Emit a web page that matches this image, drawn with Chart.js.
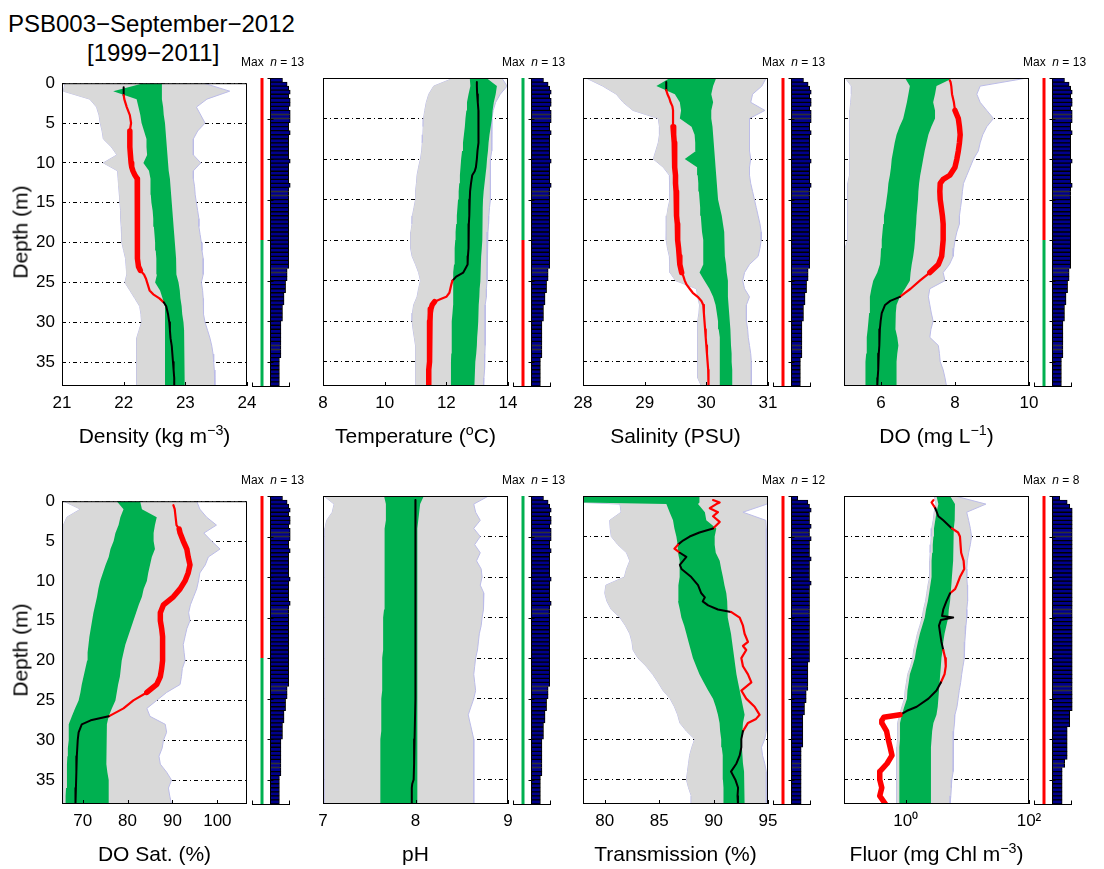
<!DOCTYPE html>
<html><head><meta charset="utf-8">
<script src="https://cdn.jsdelivr.net/npm/chart.js@4/dist/chart.umd.min.js"></script>
<style>
body{margin:0;background:#fff;width:1104px;height:869px;position:relative;overflow:hidden;font-family:"Liberation Sans",Arial,sans-serif;color:#000}
canvas{position:absolute}
.t{position:absolute;white-space:nowrap;line-height:1}
sup{font-size:0.68em;vertical-align:0.55em;line-height:0}
</style></head><body>
<script>
// ---------------- DATA ----------------
const DEPTH = [0,1,2,3,4,5,6,7,8,9,10,11,12,13,14,15,16,17,18,19,20,21,22,23,24,25,26,27,28,29,30,31,32,33,34,35,36,37,38];
const TRANS_DEPTH = [0,0.8,1,2,3,4,5,6,7,8,9,10,11,12,13,14,15,16,17,18,19,20,21,22,23,24,25,26,27,28,29,30,31,32,33,34,35,36,37,38];
const DEPTH_TICKS = [0,5,10,15,20,25,30,35];

// Density
const densGrayLo = [21.05,21.02,21.45,21.56,21.6,21.62,21.65,21.67,21.8,21.89,21.67,21.9,21.91,21.92,21.93,21.94,21.95,21.95,21.96,21.97,21.97,22.0,22.03,22.04,22.05,22.02,22.1,22.18,22.26,22.28,22.29,22.25,22.21,22.21,22.21,22.21,22.21,22.21,22.21];
const densGrayHi = [23.3,23.72,23.35,23.18,23.25,23.32,23.2,23.13,23.13,23.13,23.25,23.13,23.13,23.15,23.16,23.18,23.2,23.22,23.22,23.24,23.26,23.27,23.29,23.29,23.29,23.26,23.28,23.29,23.29,23.3,23.32,23.36,23.4,23.43,23.45,23.46,23.47,23.48,23.48];
const densGreenLo = [22.32,21.83,22.21,22.24,22.27,22.29,22.33,22.37,22.37,22.38,22.32,22.41,22.43,22.44,22.44,22.45,22.47,22.48,22.49,22.5,22.51,22.52,22.53,22.53,22.54,22.51,22.59,22.63,22.67,22.67,22.67,22.67,22.67,22.67,22.67,22.67,22.67,22.67,22.67];
const densGreenHi = [22.62,22.62,22.62,22.64,22.65,22.67,22.68,22.69,22.7,22.71,22.72,22.73,22.75,22.76,22.77,22.78,22.79,22.8,22.81,22.82,22.83,22.84,22.85,22.85,22.86,22.89,22.91,22.92,22.94,22.95,22.97,22.98,22.99,22.99,22.99,22.99,22.99,22.99,22.99];
const densProfDepth = [0.5,1,1.5,2,3,4,5,6,7,8,9,10,10.5,11,11.5,12,13,14,15,16,17,18,19,20,21,22,23,23.5,24,24.5,25,25.5,26,26.5,27,27.5,28,29,30,31,32,33,34,35,36,37,38];
const densProfVal = [22.0,22.0,22.0,22.01,22.05,22.1,22.12,22.1,22.1,22.1,22.11,22.12,22.13,22.15,22.18,22.22,22.22,22.23,22.22,22.22,22.22,22.23,22.22,22.22,22.22,22.23,22.24,22.27,22.33,22.36,22.38,22.4,22.42,22.48,22.58,22.65,22.69,22.72,22.74,22.75,22.76,22.78,22.79,22.8,22.81,22.82,22.82];

// Temperature
const tempGrayLo = [12.24,11.59,11.43,11.35,11.3,11.26,11.25,11.24,11.22,11.2,11.16,11.1,11.05,11.03,11.0,11.0,10.95,10.9,10.89,10.85,10.83,10.85,10.89,11.0,11.1,11.16,11.1,11.05,10.94,10.9,10.89,10.92,10.96,11.0,11.0,11.0,11.0,11.0,11.0];
const tempGrayHi = [13.8,13.97,13.75,13.6,13.52,13.48,13.48,13.48,13.48,13.45,13.43,13.43,13.43,13.43,13.43,13.43,13.4,13.38,13.37,13.35,13.32,13.32,13.32,13.32,13.32,13.32,13.3,13.3,13.26,13.26,13.26,13.26,13.26,13.26,13.25,13.25,13.23,13.22,13.21];
const tempGreenLo = [12.76,12.78,12.72,12.67,12.65,12.62,12.6,12.57,12.54,12.51,12.48,12.46,12.44,12.42,12.4,12.38,12.36,12.34,12.32,12.3,12.29,12.28,12.26,12.25,12.23,12.22,12.22,12.22,12.22,12.2,12.18,12.18,12.17,12.17,12.16,12.15,12.15,12.15,12.15];
const tempGreenHi = [13.3,13.64,13.6,13.54,13.5,13.48,13.44,13.4,13.37,13.35,13.32,13.3,13.27,13.24,13.21,13.19,13.18,13.18,13.17,13.16,13.16,13.15,13.13,13.12,13.11,13.1,13.08,13.07,13.05,13.04,13.03,13.02,13.0,12.99,12.97,12.94,12.93,12.92,12.91];
const tempProfDepth = [0.5,1,2,3,4,5,6,7,8,9,10,11,11.5,12,13,14,15,16,17,18,19,20,21,22,23,23.5,24,24.5,25,25.5,26,26.5,27,27.3,27.6,28,28.5,29,30,31,32,33,34,35,36,37,38];
const tempProfVal = [12.99,12.99,13.0,13.02,13.04,13.05,13.05,13.04,13.03,13.01,12.99,12.96,12.92,12.84,12.8,12.77,12.76,12.75,12.74,12.73,12.73,12.72,12.71,12.7,12.69,12.62,12.55,12.32,12.2,12.16,12.13,12.1,12.0,11.8,11.62,11.54,11.5,11.48,11.47,11.47,11.46,11.46,11.45,11.44,11.43,11.43,11.43];

// Salinity
const salGrayLo = [28.05,28.32,28.54,28.65,28.81,29.22,29.24,29.24,29.22,29.18,29.14,29.3,29.4,29.41,29.41,29.41,29.38,29.36,29.35,29.35,29.35,29.37,29.4,29.41,29.41,29.5,29.84,29.86,29.89,29.88,29.86,29.86,29.86,29.86,29.86,29.86,29.86,29.86,29.92];
const salGrayHi = [30.97,30.9,30.75,30.72,30.95,30.7,30.7,30.7,30.7,30.7,30.72,30.7,30.7,30.72,30.75,30.78,30.81,30.84,30.87,30.89,30.89,30.87,30.84,30.7,30.62,30.59,30.62,30.7,30.65,30.65,30.65,30.67,30.68,30.7,30.72,30.73,30.73,30.73,30.73];
const salGreenLo = [29.41,29.19,29.49,29.57,29.59,29.57,29.76,29.81,29.82,29.83,29.65,29.85,29.86,29.87,29.88,29.89,29.9,29.91,29.92,29.93,29.95,29.95,29.95,29.95,29.89,29.97,30.05,30.11,30.15,30.17,30.19,30.2,30.21,30.22,30.22,30.22,30.22,30.22,30.22];
const salGreenHi = [30.16,30.11,30.08,30.11,30.08,30.08,30.1,30.11,30.12,30.13,30.14,30.15,30.16,30.17,30.18,30.19,30.22,30.25,30.27,30.29,30.3,30.3,30.3,30.32,30.33,30.35,30.35,30.35,30.36,30.37,30.38,30.39,30.4,30.4,30.41,30.41,30.42,30.42,30.42];
const salProfDepth = [0.5,1,1.5,2,2.5,3,3.5,4,5,6,7,8,9,10,11,12,13,14,15,16,17,18,19,20,21,22,23,24,24.5,25,25.5,26,26.5,27,27.5,28,29,30,31,32,33,34,35,36,37,38];
const salProfVal = [29.35,29.35,29.35,29.37,29.4,29.42,29.45,29.46,29.46,29.46,29.47,29.48,29.48,29.49,29.49,29.5,29.5,29.51,29.51,29.52,29.52,29.53,29.53,29.54,29.55,29.56,29.57,29.6,29.63,29.65,29.68,29.73,29.78,29.86,29.92,29.95,29.96,29.97,29.98,29.99,30.0,30.01,30.02,30.03,30.03,30.04];

// DO
const doGrayLo = [5.03,5.2,5.2,5.18,5.16,5.15,5.15,5.15,5.15,5.15,5.15,5.15,5.15,5.1,5.1,5.1,5.1,5.1,5.1,5.1,5.1,5.03,5.03,5.03,5.03,5.03,5.03,5.03,5.03,5.03,5.03,5.03,5.03,5.03,5.03,5.03,5.03,5.03,5.03];
const doGrayHi = [9.95,8.68,8.59,8.68,8.86,9.04,8.86,8.75,8.68,8.63,8.5,8.41,8.32,8.23,8.2,8.18,8.15,8.12,8.12,8.05,8.0,7.97,7.95,7.85,7.68,7.73,7.32,7.28,7.32,7.36,7.41,7.35,7.32,7.55,7.58,7.6,7.68,7.73,7.77];
const doGreenLo = [6.65,6.78,6.74,6.7,6.65,6.6,6.5,6.42,6.37,6.33,6.29,6.27,6.24,6.2,6.18,6.15,6.12,6.08,6.06,6.04,6.02,6.0,5.99,5.97,5.9,5.79,5.74,5.7,5.7,5.68,5.66,5.64,5.62,5.61,5.6,5.59,5.58,5.57,5.57];
const doGreenHi = [7.95,7.5,7.46,7.41,7.46,7.46,7.36,7.28,7.23,7.18,7.14,7.1,7.06,7.03,7.01,7.0,6.98,6.96,6.95,6.93,6.92,6.9,6.87,6.83,6.8,6.78,6.65,6.51,6.42,6.4,6.38,6.4,6.44,6.47,6.44,6.42,6.42,6.42,6.42];
const doProfDepth = [0.3,0.5,1,2,3,4,5,6,7,8,9,10,11,12,12.5,13,14,15,16,17,18,19,20,21,22,23,24,25,26,26.5,27,27.5,28,29,30,31,32,33,34,35,36,37,38];
const doProfVal = [7.86,7.88,7.9,7.92,7.97,8.0,8.09,8.12,8.14,8.12,8.09,8.05,8.0,7.86,7.68,7.6,7.59,7.6,7.63,7.66,7.68,7.68,7.68,7.66,7.64,7.55,7.32,7.05,6.8,6.65,6.51,6.25,6.11,6.02,5.99,5.97,5.96,5.95,5.94,5.93,5.92,5.91,5.9];

// DO saturation
const dosGrayLo = [65.8,69.5,66.5,65.7,65.7,65.7,65.7,65.7,65.7,65.7,65.7,65.7,65.7,65.7,65.7,65.7,65.7,65.7,65.7,65.7,65.7,65.7,65.7,65.7,65.7,65.7,65.7,65.7,65.7,65.7,65.7,65.7,65.7,65.7,65.7,65.7,65.7,65.7,65.7];
const dosGrayHi = [95.4,96.1,97.6,99.8,97.0,98.7,100.6,98.0,97.3,96.1,95.8,95.4,94.7,94.0,93.6,93.9,93.2,92.8,92.4,92.6,92.8,92.2,92.0,91.7,88.7,86.5,84.3,85.0,88.4,88.7,88.0,87.7,87.0,87.3,88.7,89.8,89.1,89.4,89.8];
const dosGreenLo = [77.6,79.1,78.4,78.0,77.3,76.9,76.2,75.8,75.1,74.5,73.9,73.5,73.2,72.8,72.4,72.1,71.8,71.5,71.3,71.1,71.0,70.6,70.2,69.8,69.5,69.1,68.3,67.6,66.9,66.9,66.9,66.7,66.6,66.5,66.5,66.5,66.3,66.2,66.1];
const dosGreenHi = [82.8,83.2,86.5,86.1,85.8,85.8,86.1,85.4,85.0,84.6,84.3,83.6,83.2,82.5,81.9,81.3,80.7,80.1,79.5,79.1,78.7,78.5,78.3,77.9,77.6,77.3,76.5,75.8,75.4,75.3,75.2,75.2,75.3,75.4,75.5,75.8,75.8,75.8,75.8];
const dosProfDepth = [0.5,1,2,3,3.5,4,5,6,7,8,9,10,11,12,13,14,15,16,17,18,19,20,21,22,23,24,25,26,27,27.5,28,29,30,32,34,36,38];
const dosProfVal = [90.2,90.5,90.7,90.9,91.5,91.7,92.4,93.2,93.5,93.9,93.5,92.8,91.7,90.2,88.0,87.3,87.3,87.6,87.8,87.8,87.8,87.8,87.6,87.3,86.5,84.3,81.3,79.1,75.8,71.8,69.8,69.1,68.9,68.7,68.6,68.5,68.4];

// pH
const phGrayLo = [7.01,7.12,7.1,7.04,7.02,7.02,7.02,7.02,7.02,7.02,7.02,7.02,7.02,7.02,7.02,7.02,7.02,7.02,7.02,7.02,7.02,7.02,7.02,7.02,7.02,7.02,7.02,7.02,7.02,7.02,7.02,7.02,7.02,7.02,7.02,7.02,7.02,7.02,7.02];
const phGrayHi = [8.79,8.63,8.65,8.7,8.63,8.7,8.64,8.7,8.66,8.71,8.72,8.7,8.74,8.74,8.73,8.72,8.71,8.69,8.68,8.67,8.65,8.64,8.63,8.64,8.65,8.63,8.6,8.57,8.59,8.61,8.63,8.63,8.63,8.63,8.63,8.63,8.63,8.63,8.63];
const phGreenLo = [7.66,7.68,7.68,7.68,7.67,7.67,7.67,7.67,7.67,7.67,7.66,7.66,7.66,7.66,7.66,7.65,7.65,7.65,7.65,7.65,7.64,7.64,7.64,7.64,7.64,7.63,7.63,7.63,7.63,7.63,7.62,7.62,7.62,7.62,7.62,7.62,7.62,7.62,7.62];
const phGreenHi = [8.09,8.05,8.04,8.03,8.02,8.02,8.02,8.02,8.02,8.02,8.02,8.02,8.02,8.02,8.02,8.02,8.02,8.02,8.02,8.02,8.02,8.02,8.02,8.02,8.02,8.02,8.02,8.02,8.02,8.02,8.02,8.02,8.02,8.02,8.02,8.02,8.02,8.02,8.02];
const phProfDepth = [0.5,5,10,15,20,25,30,33,35,35.5,36,38];
const phProfVal = [8.0,8.0,8.0,8.0,8.0,7.995,7.99,7.985,7.98,7.965,7.96,7.96];

// Transmission (band depths = TRANS_DEPTH)
const trGrayLo = [78.05,78.05,81.4,81.5,80.45,80.5,80.6,81.2,82.0,82.3,82.0,81.8,80.1,80.0,80.2,80.6,81.4,81.9,82.3,82.5,82.6,83.05,83.8,84.4,84.9,85.35,86.0,86.4,86.7,86.9,87.5,88.26,88.0,87.8,87.7,87.6,87.5,87.7,87.95,87.95];
const trGrayHi = [94.95,94.95,94.9,92.7,94.8,94.85,94.85,94.85,94.85,94.85,94.85,94.85,94.85,94.85,94.85,94.85,94.85,94.85,94.85,94.85,94.85,94.85,94.85,94.85,94.85,94.85,94.85,94.85,94.85,94.85,94.85,94.7,94.4,94.5,94.7,94.85,94.85,94.85,94.85,94.85];
const trGreenLo = [78.02,78.02,85.66,85.96,86.27,86.4,86.58,86.7,86.73,86.88,86.88,86.88,86.8,86.73,86.73,86.9,87.04,87.3,87.5,87.7,87.9,88.1,88.4,88.7,89.1,89.5,89.95,90.2,90.4,90.55,90.6,90.7,90.75,90.8,90.86,90.86,90.86,90.9,90.92,90.92];
const trGreenHi = [88.7,88.7,88.57,89.2,89.33,90.25,90.1,90.1,90.2,90.56,90.7,90.86,91.0,91.17,91.25,91.3,91.3,91.45,91.6,91.7,91.8,91.9,92.0,92.1,92.25,92.4,92.55,92.7,92.85,92.7,92.65,92.6,92.6,92.65,92.7,92.8,92.85,92.85,92.85,92.85];
const trProfDepth = [0.5,0.8,1,1.5,2,2.5,3.2,4,4.5,5,5.5,6,6.5,7,7.5,8,8.5,9,9.5,10,11,12,12.5,13,13.5,14,14.3,15,16,17,18,18.5,19,20,21,22,23,24,25,26,27,27.5,28,29,30,31,32,33,34,35,36,37,38];
const trProfVal = [89.95,90.56,90.25,89.65,90.4,89.95,90.56,89.95,88.7,87.8,87.19,86.73,86.4,86.9,87.5,87.2,86.9,87.05,87.5,87.95,88.57,88.87,89.2,89.0,89.5,90.4,91.6,92.4,92.7,92.85,93.16,92.7,93.0,92.55,92.7,93.16,93.47,92.55,93.0,93.77,94.23,93.9,93.16,92.7,92.55,92.55,92.4,92.1,91.6,92.0,92.25,92.2,92.24];

// Fluorescence
const flGrayLo = [2.9,3.1,2.9,2.8,2.65,2.6,2.55,2.5,2.45,2.45,2.45,2.3,2.2,2.1,1.95,1.85,1.7,1.55,1.45,1.35,1.3,1.2,1.08,1.03,0.98,0.96,0.87,0.8,0.74,0.74,0.74,0.72,0.72,0.72,0.72,0.72,0.72,0.72,0.72];
const flGrayHi = [6.3,20,9.77,10.5,11.2,11.7,11.2,10.5,10,9.8,9.8,10,10.2,10,9.8,9.8,9.5,9.3,9.1,9.0,8.9,8.5,8.1,7.8,7.4,7.1,6.8,6.3,6.2,6.0,5.9,5.9,5.9,5.9,5.9,5.6,5.5,5.4,5.25];
const flGreenLo = [3.16,3.39,3.16,3.02,2.88,2.82,2.75,2.69,2.63,2.63,2.63,2.51,2.4,2.29,2.14,2.04,1.86,1.7,1.58,1.48,1.41,1.29,1.17,1.12,1.07,1.05,0.95,0.87,0.81,0.81,0.81,0.79,0.79,0.79,0.79,0.79,0.79,0.79,0.79];
const flGreenHi = [5.25,6.3,6.3,6.17,6.03,5.89,5.89,5.89,5.89,5.75,5.62,5.5,5.37,5.25,5.01,4.9,4.57,4.27,4.07,3.98,3.8,3.72,3.63,3.55,3.47,3.39,3.31,3.16,2.82,2.69,2.63,2.57,2.57,2.57,2.57,2.57,2.57,2.57,2.57];
const flProfDepth = [0.5,0.8,1.5,2.5,3,4,4.5,5,6,7,8,9,10,11,11.5,12,13,14,14.8,15,15.3,16,17,18,19,20,21,22,23,24,25,26,26.5,27,27.3,27.7,28,29,30,31,32,33,34,35,36,37,38];
const flProfVal = [2.82,2.63,3.02,3.39,4.07,5.62,7.08,7.59,7.76,7.94,8.71,8.91,7.59,6.76,6.31,5.25,4.57,4.07,3.89,5.89,3.72,3.47,3.63,3.8,4.07,4.37,4.47,4.27,3.72,3.16,2.34,1.51,1.05,0.81,0.44,0.41,0.41,0.49,0.52,0.56,0.6,0.5,0.38,0.38,0.41,0.38,0.47];

// Number of casts per 0.5 m depth bin (0-38 m)
const nCasts = [8,11,12,13,12,13,13,12,13,13, 13,12,12,13,12,12,12,12,12,12, 13,12,12,12,12,12,13,12,12,12, 12,12,12,12,12,12,12,12,12,12, 12,12,12,12,12,12,12,11,11,11, 10,10,10,9,9,9,8,8,8,8, 7,7,7,7,7,7,7,7,7,6, 6,6,6,6,6,6];
const nTrans = [4,10,11,12,11,11,11,12,11,11, 12,11,11,11,11,12,11,11,11,11, 11,12,11,11,11,11,11,11,11,11, 11,11,11,11,11,11,11,11,11,11, 11,10,10,10,10,10,10,10,9,9, 9,8,8,8,7,7,7,7,7,7, 7,7,6,6,6,6,6,6,6,6, 6,6,6,6,6,6];
const nFluor = [3,6,7,8,8,8,8,8,8,8, 8,8,8,8,8,8,8,8,8,8, 8,8,8,8,8,8,8,8,8,8, 8,8,8,8,8,8,8,8,8,8, 8,8,8,8,8,8,8,8,8,8, 8,8,8,7,7,7,7,6,6,6, 6,6,6,6,6,5,5,4,4,4, 4,4,4,4,4,4];

// Layer anomaly flags (upper 0-20 m, lower 20-38 m); 1 = outside normal range
const upperFlag = [1,0,1,1, 1,0,1,1];
const lowerFlag = [0,1,1,0, 0,0,1,1];
// depth ranges where the profile is strongly anomalous
const strongRanges = [[[6,23.3]],[[27.5,38]],[[6,23.5]],[[4,24]], [[3.5,23.8]],[],[],[[27,38]]];

// X axis tick values / labels
const densTicks=[21,22,23,24], tempTicks=[8,10,12,14], salTicks=[28,29,30,31], doTicks=[6,8,10];
const dosTicks=[70,80,90,100], phTicks=[7,8,9], trTicks=[80,85,90,95], flTicks=[1,100];
const flTickLabels=['10\u2070','10\u00B2'];

// --------------- STYLE / LAYOUT ---------------
const FONT='"Liberation Sans", Arial, sans-serif';
Chart.defaults.font.family=FONT;
Chart.defaults.color='#000';
const GRAY='rgb(217,217,217)', EDGE='rgb(188,188,232)', GREEN='rgb(0,176,80)', RED='rgb(255,0,0)', NAVY='rgb(0,0,140)';
const LEFTS=[62,323,583,844], TOPS=[78,496], PW=185, PH=308;

const panels=[
 {bd:DEPTH,gl:densGrayLo,gh:densGrayHi,lo:densGreenLo,hi:densGreenHi,pd:densProfDepth,pv:densProfVal,n:nCasts,min:21,max:24,ticks:densTicks,title:'Density (kg m<sup>\u22123</sup>)'},
 {bd:DEPTH,gl:tempGrayLo,gh:tempGrayHi,lo:tempGreenLo,hi:tempGreenHi,pd:tempProfDepth,pv:tempProfVal,n:nCasts,min:8,max:14,ticks:tempTicks,title:'Temperature (<sup>o</sup>C)'},
 {bd:DEPTH,gl:salGrayLo,gh:salGrayHi,lo:salGreenLo,hi:salGreenHi,pd:salProfDepth,pv:salProfVal,n:nCasts,min:28,max:31,ticks:salTicks,title:'Salinity (PSU)'},
 {bd:DEPTH,gl:doGrayLo,gh:doGrayHi,lo:doGreenLo,hi:doGreenHi,pd:doProfDepth,pv:doProfVal,n:nCasts,min:5,max:10,ticks:doTicks,title:'DO (mg L<sup>\u22121</sup>)'},
 {bd:DEPTH,gl:dosGrayLo,gh:dosGrayHi,lo:dosGreenLo,hi:dosGreenHi,pd:dosProfDepth,pv:dosProfVal,n:nCasts,min:65.4,max:106.6,ticks:dosTicks,title:'DO Sat. (%)'},
 {bd:DEPTH,gl:phGrayLo,gh:phGrayHi,lo:phGreenLo,hi:phGreenHi,pd:phProfDepth,pv:phProfVal,n:nCasts,min:7,max:9,ticks:phTicks,title:'pH'},
 {bd:TRANS_DEPTH,gl:trGrayLo,gh:trGrayHi,lo:trGreenLo,hi:trGreenHi,pd:trProfDepth,pv:trProfVal,n:nTrans,min:78,max:95,ticks:trTicks,title:'Transmission (%)'},
 {bd:DEPTH,gl:flGrayLo,gh:flGrayHi,lo:flGreenLo,hi:flGreenHi,pd:flProfDepth,pv:flProfVal,n:nFluor,min:0.1,max:100,ticks:flTicks,labels:flTickLabels,log:true,title:'Fluor (mg Chl m<sup>\u22123</sup>)'}
];

function mkCanvas(l,t,w,h){const c=document.createElement('canvas');c.width=w;c.height=h;c.style.cssText=`left:${l}px;top:${t}px;width:${w}px;height:${h}px`;document.body.appendChild(c);return c;}
function txt(html,l,t,size,extra){const d=document.createElement('div');d.className='t';d.innerHTML=html;d.style.cssText=`left:${l}px;top:${t}px;font-size:${size}px;${extra||''}`;document.body.appendChild(d);return d;}
function bandAt(ds,arr,d){if(d<=ds[0])return arr[0];for(let i=1;i<ds.length;i++){if(d<=ds[i]){const t=(d-ds[i-1])/(ds[i]-ds[i-1]);return arr[i-1]+t*(arr[i]-arr[i-1]);}}return arr[arr.length-1];}
const pts=(ds,vs)=>ds.map((d,i)=>({x:vs[i],y:d}));

const framePlugin={id:'frame',afterDraw(chart){const {ctx,chartArea:a}=chart;ctx.save();ctx.strokeStyle='#000';ctx.lineWidth=1;
  ctx.strokeRect(a.left+0.5,a.top+0.5,a.width-1,a.height-1);
  const xs=chart.scales.x;xs.ticks.forEach(t=>{const px=Math.round(xs.getPixelForValue(t.value))+0.5;ctx.beginPath();ctx.moveTo(px,a.bottom);ctx.lineTo(px,a.bottom-4);ctx.stroke();});
  ctx.restore();}};
const sidePlugin={id:'sideaxis',afterDraw(chart){const {ctx,chartArea:a}=chart;const xs=chart.scales.x,ys=chart.scales.y;ctx.save();ctx.strokeStyle='#000';ctx.lineWidth=1;
  const b=Math.round(a.bottom)+0.5;ctx.beginPath();ctx.moveTo(a.left,b);ctx.lineTo(a.right-1,b);ctx.moveTo(a.left+0.5,b);ctx.lineTo(a.left+0.5,b-4);ctx.moveTo(a.right-1.5,b);ctx.lineTo(a.right-1.5,b-4);
  const x0=Math.round(xs.getPixelForValue(0))+0.5;ctx.moveTo(x0,a.top);ctx.lineTo(x0,a.bottom);
  DEPTH_TICKS.forEach(d=>{const py=Math.round(ys.getPixelForValue(d))+0.5;ctx.moveTo(x0-3,py);ctx.lineTo(x0+3,py);});
  ctx.stroke();ctx.restore();}};

panels.forEach((p,k)=>{
  const L=LEFTS[k%4], T=TOPS[Math.floor(k/4)], showY=(k%4===0);
  const strong=strongRanges[k];
  const seg=(c)=>{const i0=c.p0DataIndex,i1=c.p1DataIndex;const d=(p.pd[i0]+p.pd[i1])/2,v=(p.pv[i0]+p.pv[i1])/2;
     const lo=bandAt(p.bd,p.lo,d),hi=bandAt(p.bd,p.hi,d);if(v>=lo&&v<=hi)return 0;return strong.some(r=>d>=r[0]&&d<=r[1])?2:1;};
  const cv=mkCanvas(L-62,T-12,62+PW+20,12+PH+40);
  new Chart(cv,{type:'line',
    data:{datasets:[
      {data:pts(p.bd,p.gl),borderColor:EDGE,borderWidth:1,pointRadius:0,fill:false,order:4,tension:0},
      {data:pts(p.bd,p.gh),borderColor:EDGE,borderWidth:1,pointRadius:0,fill:'-1',backgroundColor:GRAY,order:3,tension:0},
      {data:pts(p.bd,p.lo),borderColor:GREEN,borderWidth:0,pointRadius:0,fill:false,order:2,tension:0},
      {data:pts(p.bd,p.hi),borderColor:GREEN,borderWidth:0,pointRadius:0,fill:'-1',backgroundColor:GREEN,order:1,tension:0},
      {data:pts(p.pd,p.pv),borderColor:'#000',borderWidth:2,pointRadius:0,fill:false,order:0,tension:0,borderJoinStyle:'round',borderCapStyle:'round',
        segment:{borderColor:c=>seg(c)===0?'#000':RED,borderWidth:c=>{const s=seg(c);return s===2?5.5:(s===1?2.2:2);}}}
    ]},
    options:{responsive:false,animation:false,events:[],indexAxis:'y',devicePixelRatio:1,
      layout:{padding:{left:0,top:12,right:20,bottom:0}},
      plugins:{legend:{display:false},tooltip:{enabled:false}},
      scales:{
        x:{type:p.log?'logarithmic':'linear',position:'bottom',min:p.min,max:p.max,offset:false,
           afterBuildTicks:s=>{s.ticks=p.ticks.map(v=>({value:v}));},
           afterFit:s=>{s.height=40;},
           grid:{display:false,drawTicks:false},border:{display:false},
           ticks:{padding:7,autoSkip:false,maxRotation:0,font:{size:17,family:FONT},color:'#000',
             callback:(v,i)=>p.labels?p.labels[i]:String(p.ticks[i])}},
        y:{type:'linear',position:'left',min:0,max:38,reverse:true,offset:false,
           afterBuildTicks:s=>{s.ticks=DEPTH_TICKS.map(v=>({value:v}));},
           afterFit:s=>{s.width=62;},
           grid:{color:'#000',lineWidth:1,drawTicks:false},border:{display:false,dash:[4,3,1,3]},
           ticks:{display:showY,padding:7,font:{size:17,family:FONT},color:'#000',callback:v=>String(v)}}
      }},
    plugins:[framePlugin]});

  // side panel: layer flag lines + histogram of casts
  const nMax=Math.max(...p.n);
  const bins=p.n.map((_,i)=>0.25+0.5*i);
  const ind=-0.403*nMax;
  const sc=mkCanvas(L+188,T-12,43,12+PH+8);
  new Chart(sc,{type:'bar',
    data:{datasets:[
      {type:'line',data:[{x:ind,y:0},{x:ind,y:20}],borderColor:upperFlag[k]?RED:GREEN,borderWidth:3,pointRadius:0,fill:false,order:0},
      {type:'line',data:[{x:ind,y:20},{x:ind,y:38}],borderColor:lowerFlag[k]?RED:GREEN,borderWidth:3,pointRadius:0,fill:false,order:0},
      {type:'bar',data:p.n.map((v,i)=>({x:v,y:bins[i]})),backgroundColor:NAVY,borderColor:'#000',borderWidth:1,barPercentage:1,categoryPercentage:1,order:1}
    ]},
    options:{responsive:false,animation:false,events:[],indexAxis:'y',devicePixelRatio:1,
      layout:{padding:{left:2,top:12,right:2,bottom:8}},
      plugins:{legend:{display:false},tooltip:{enabled:false}},
      scales:{x:{type:'linear',display:false,offset:false,min:-0.9*nMax,max:1.038*nMax},
              y:{type:'linear',display:false,offset:false,min:0,max:38,reverse:true}}},
    plugins:[sidePlugin]});

  // text
  const row=Math.floor(k/4);
  txt(p.title,L+PW/2,425+418*row,21,'transform:translateX(-50%)');
  txt('Max&nbsp; <i>n</i> = '+nMax,L+179,56+418*row,12);
  if(showY){txt('Depth (m)',20,T+PH/2,21,'transform:translate(-50%,-50%) rotate(-90deg)');}
});

txt('PSB003\u2212September\u22122012',8,12,24);
txt('[1999\u22122011]',87,41,24);
</script>
</body></html>
